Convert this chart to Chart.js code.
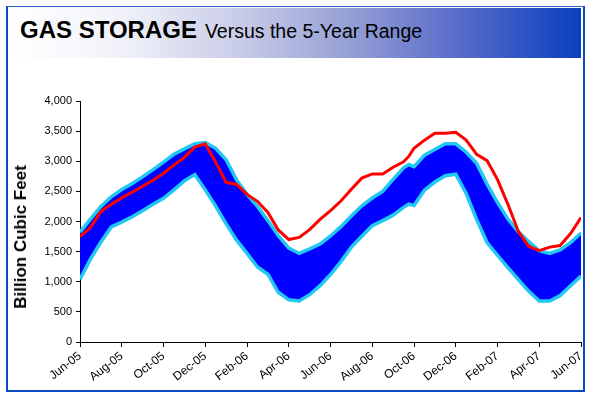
<!DOCTYPE html>
<html>
<head>
<meta charset="utf-8">
<script src="https://cdn.jsdelivr.net/npm/chart.js@4"></script>
<style>
  body { margin: 0; background: #fff; }
  #wrap { position: relative; width: 595px; height: 396px; overflow: hidden; font-family: Arial, "Liberation Sans", sans-serif; }
  #frame { position: absolute; left: 6px; top: 6px; width: 575px; height: 383px; border: 2px solid #0a49c2; border-top: 1px solid #2f63cc; }
  #banner { position: absolute; left: 8px; top: 8px; width: 573px; height: 50px;
    background: linear-gradient(to right, #ffffff 0%, #f3f4fa 18%, #c9cde8 40%, #9aa3d6 58%, #5468c8 80%, #0b3fbf 100%); }
  #title { position: absolute; left: 20px; top: 16px; white-space: nowrap; color: #000; }
  #title b { font-size: 24px; font-weight: bold; }
  #title span { font-size: 19.5px; margin-left: 8px; display: inline-block; }
  #ytitle { position: absolute; left: 21px; top: 237px; transform: translate(-50%, -50%) rotate(-90deg);
    white-space: nowrap; font-size: 17px; font-weight: bold; color: #000; }
  #c { position: absolute; left: 0; top: 0; }
</style>
</head>
<body>
<div id="wrap">
  <div id="frame"></div>
  <div id="banner"></div>
  <div id="title"><b>GAS STORAGE</b><span>Versus the 5-Year Range</span></div>
  <canvas id="c" width="595" height="396"></canvas>
  <div id="ytitle">Billion Cubic Feet</div>
</div>
<script>
// months after Jun-05, roughly every half month
const months = [0, 0.5, 1, 1.5, 2, 2.5, 3, 3.5, 4, 4.5, 5, 5.5, 6, 6.5, 7, 7.5, 8, 8.5, 9, 9.5,
  10, 10.5, 11, 11.5, 12, 12.5, 13, 13.5, 14, 14.5, 15, 15.5, 15.75, 16, 16.5, 17, 17.5, 18, 18.5, 19,
  19.5, 20, 20.5, 21, 21.5, 22, 22.5, 23, 23.5, 24];

const tickLabels = ['Jun-05', 'Aug-05', 'Oct-05', 'Dec-05', 'Feb-06', 'Apr-06', 'Jun-06',
  'Aug-06', 'Oct-06', 'Dec-06', 'Feb-07', 'Apr-07', 'Jun-07'];

// 5-year max / min (bcf)
const rangeMax = [1825, 2040, 2250, 2410, 2530, 2630, 2740, 2860, 2985, 3115, 3205, 3290, 3310, 3215, 3025, 2690, 2450, 2250, 2015, 1765,
  1560, 1470, 1545, 1625, 1760, 1915, 2090, 2260, 2390, 2500, 2700, 2890, 2945, 2910, 3100, 3195, 3290, 3290, 3150, 2965,
  2620, 2315, 2040, 1830, 1665, 1515, 1470, 1530, 1650, 1810];
const rangeMin = [1040, 1375, 1660, 1910, 1990, 2080, 2180, 2285, 2385, 2525, 2675, 2780, 2525, 2255, 1960, 1690, 1470, 1245, 1125, 825,
  700, 680, 785, 935, 1120, 1335, 1575, 1755, 1930, 2015, 2105, 2235, 2290, 2265, 2520, 2655, 2760, 2785, 2465, 2035,
  1650, 1440, 1235, 1035, 840, 680, 680, 770, 935, 1095];
// current storage
const storage = [1750, 1900, 2165, 2285, 2395, 2485, 2585, 2685, 2800, 2935, 3065, 3235, 3290, 2985, 2650, 2615, 2450, 2335, 2150, 1860,
  1700, 1735, 1865, 2035, 2180, 2340, 2535, 2720, 2790, 2790, 2900, 2990, 3080, 3215, 3350, 3465, 3465, 3480, 3350, 3115,
  3010, 2695, 2285, 1835, 1585, 1515, 1575, 1600, 1800, 2065];

function pts(arr){
  return months.map((m, i) => ({x: m, y: arr[i]}));
}

const storageData = {
  datasets: [{
    label: 'Storage',
    data: pts(storage),
    borderColor: '#ff0000',
    borderWidth: 3,
    pointRadius: 0,
    tension: 0,
    fill: false
  }, {
    label: '5-Year Max',
    data: pts(rangeMax),
    borderColor: '#22c8f4',
    borderWidth: 3.5,
    backgroundColor: '#0000ff',
    pointRadius: 0,
    tension: 0,
    fill: '+1'
  }, {
    label: '5-Year Min',
    data: pts(rangeMin),
    borderColor: '#22c8f4',
    borderWidth: 3.5,
    pointRadius: 0,
    tension: 0,
    fill: false
  }]
};

const storageConfig = {
  type: 'line',
  data: storageData,
  options: {
    responsive: false,
    animation: false,
    layout: { padding: { top: 101, left: 8, right: 14, bottom: 4 } },
    plugins: {
      legend: { display: false },
      tooltip: { enabled: false },
      filler: { drawTime: 'beforeDatasetsDraw' }
    },
    scales: {
      x: {
        type: 'linear',
        min: 0,
        max: 24,
        afterFit: function(scale){ scale.height = 50; },
        afterBuildTicks: function(scale){
          scale.ticks = tickLabels.map((t, i) => ({value: i * 2}));
        },
        ticks: {
          autoSkip: false,
          minRotation: 38,
          maxRotation: 38,
          color: '#000',
          font: { family: 'Arial, Liberation Sans', size: 12 },
          padding: 2,
          callback: function(value){ return tickLabels[Math.round(value / 2)]; }
        },
        grid: { drawOnChartArea: false, tickLength: 5, color: '#000' },
        border: { color: '#000', width: 1 }
      },
      y: {
        min: 0,
        max: 4000,
        afterFit: function(scale){ scale.width = 72; },
        ticks: {
          stepSize: 500,
          color: '#000',
          font: { family: 'Arial, Liberation Sans', size: 11 },
          padding: 4,
          callback: function(value){ return value.toLocaleString('en-US'); }
        },
        grid: { drawOnChartArea: false, tickLength: 4, color: '#000' },
        border: { color: '#000', width: 1 }
      }
    }
  }
};

var storageChart = new Chart(document.getElementById('c'), storageConfig);
</script>
</body>
</html>
